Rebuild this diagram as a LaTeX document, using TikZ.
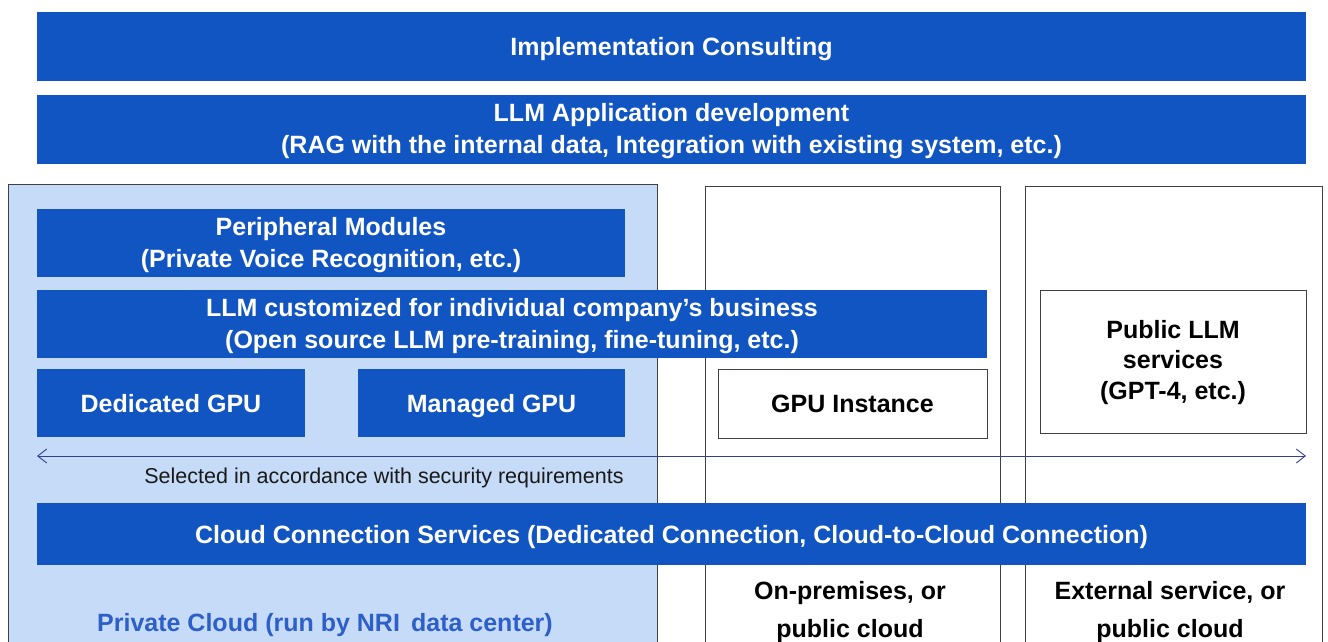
\documentclass[tikz,border=0pt]{standalone}
\usepackage{fontspec}
\setmainfont{Liberation Sans}
\usetikzlibrary{arrows.meta}
\definecolor{nriblue}{HTML}{1155C3}
\definecolor{panelblue}{HTML}{C6DBF7}
\definecolor{labelblue}{HTML}{2E5FC8}
\definecolor{arrowblue}{HTML}{34408E}
\tikzset{
  bluebar/.style={fill=nriblue, draw=none, text=white, font=\fontsize{25}{32}\selectfont\bfseries, align=center, inner sep=0pt},
  whitebox/.style={fill=white, draw=black!75, line width=1pt, text=black, font=\fontsize{25}{30.5}\selectfont\bfseries, align=center, inner sep=0pt},
  panel/.style={draw=black!75, line width=1pt},
  oneline/.style={text height=18pt, text depth=0pt},
  plainlabel/.style={font=\fontsize{25}{38}\selectfont\bfseries, align=center, inner sep=0pt},
}
\begin{document}
\begin{tikzpicture}[x=1pt,y=-1pt]
\useasboundingbox (0,0) rectangle (1328,642);
\clip (0,0) rectangle (1328,642);
% panels
\node[panel, fill=panelblue, minimum width=649pt, minimum height=470pt, inner sep=0pt] (private) at (332.5,419) {};
\node[panel, fill=white, minimum width=295pt, minimum height=470pt, inner sep=0pt] (onprem) at (852.5,421) {};
\node[panel, fill=white, minimum width=297pt, minimum height=470pt, inner sep=0pt] (external) at (1173.5,421) {};
% top bars
\node[bluebar, oneline, minimum width=1269pt, minimum height=69pt] (impl) at (671.5,46.5) {Implementation Consulting};
\node[bluebar, minimum width=1269pt, minimum height=69pt] (app) at (671.5,129.5) {};
\node[bluebar] at ([yshift=-2pt]app.center) {LLM Application development\\(RAG with the internal data, Integration with existing system, etc.)};
% private cloud contents
\node[bluebar, minimum width=588pt, minimum height=68pt] (periph) at (331,243) {};
\node[bluebar] at ([yshift=-2pt]periph.center) {Peripheral Modules\\(Private Voice Recognition, etc.)};
\node[bluebar, minimum width=950pt, minimum height=68pt] (custom) at (512,324) {};
\node[bluebar] at ([yshift=-2pt]custom.center) {LLM customized for individual company’s business\\(Open source LLM pre-training, fine-tuning, etc.)};
\node[bluebar, oneline, minimum width=268pt, minimum height=68pt] (dedgpu) at (171,403) {Dedicated GPU};
\node[bluebar, oneline, minimum width=267pt, minimum height=68pt] (mangpu) at (491.5,403) {Managed GPU};
\node[whitebox, oneline, minimum width=269pt, minimum height=69pt] (gpuinst) at (852.5,403.5) {GPU Instance};
\node[whitebox, minimum width=266pt, minimum height=143pt] (publlm) at (1173,361.5) {};
\node[whitebox, draw=none, fill=none] at ([yshift=-1pt]publlm.center) {Public LLM\\services\\(GPT-4, etc.)};
% arrow
\coordinate (arrL) at (37,456);
\coordinate (arrR) at (1306,456);
\draw[arrowblue, line width=0.9pt, {Straight Barb[length=9pt,width=14pt]}-{Straight Barb[length=9pt,width=14pt]}] (arrL) -- (arrR);
\node[font=\fontsize{21.5}{26}\selectfont, text=black!90, inner sep=0pt, text height=15.4pt, text depth=0pt] (selected) at (384,476) {Selected in accordance with security requirements};
% cloud connection
\node[bluebar, oneline, minimum width=1269pt, minimum height=62pt] (cloudconn) at (671.5,534) {Cloud Connection Services (Dedicated Connection, Cloud-to-Cloud Connection)};
% bottom labels
\node[plainlabel, text=labelblue, text height=18pt, text depth=0pt] (privlabel) at (325,622) {Private Cloud (run by NRI\, data center)};
\node[plainlabel, text=black] (onpremlabel) at (850,612) {On-premises, or\\public cloud};
\node[plainlabel, text=black] (extlabel) at (1170,612) {External service, or\\public cloud};
\end{tikzpicture}
\end{document}
